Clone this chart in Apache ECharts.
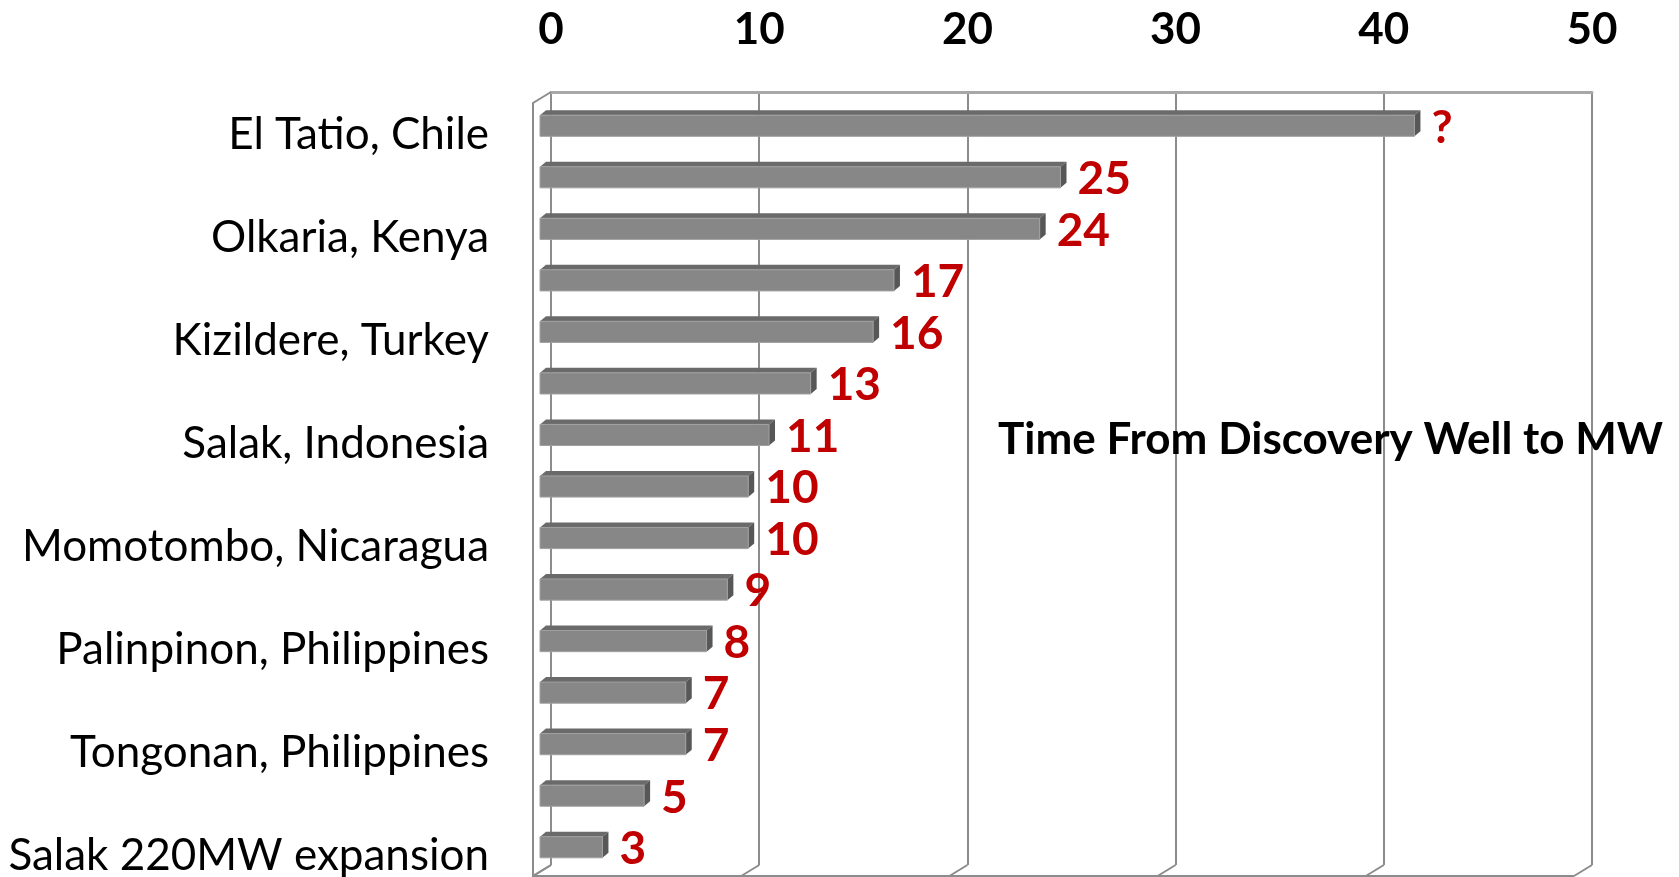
<!DOCTYPE html>
<html>
<head>
<meta charset="utf-8">
<script src="https://cdn.jsdelivr.net/npm/echarts@6/dist/echarts.min.js"></script>
<style>
  html, body { margin: 0; padding: 0; background: #fff; }
  #chart { width: 1679px; height: 877px; }
</style>
</head>
<body>
<div id="chart"></div>
<script>
// 発見井から発電開始までの年数（3D風の横棒グラフ）
const categories = [
  'El Tatio, Chile', '', 'Olkaria, Kenya', '', 'Kizildere, Turkey', '',
  'Salak, Indonesia', '', 'Momotombo, Nicaragua', '', 'Palinpinon, Philippines', '',
  'Tongonan, Philippines', '', 'Salak 220MW expansion'
];
const years = [42, 25, 24, 17, 16, 13, 11, 10, 10, 9, 8, 7, 7, 5, 3];
const barLabels = ['?', '25', '24', '17', '16', '13', '11', '10', '10', '9', '8', '7', '7', '5', '3'];
const xTicks = [0, 10, 20, 30, 40, 50];

const FONT = 'Lato, "Open Sans", sans-serif';
const wallDepth = [-18, 11]; // 奥の壁から手前までのずれ
const barShift = [-11, 8];   // 棒の前面のずれ
const bevel = [6, -5];       // 棒の上面・側面の厚み

(() => {
  const box = document.getElementById('chart');
  const chart = echarts.init(box, null, { renderer: 'canvas' });

  const renderBar = (params, api) => {
    const v = api.value(0);
    const c = api.value(1);
    const p0 = api.coord([0, c]);
    const p1 = api.coord([v, c]);
    const h = api.size([0, 1])[1] * 0.41;
    const x = p0[0] + barShift[0];
    const w = p1[0] - p0[0];
    const y = p0[1] + barShift[1] - h / 2;
    const [bx, by] = bevel;
    return {
      type: 'group',
      children: [
        {
          type: 'polygon',
          shape: { points: [[x, y], [x + bx, y + by], [x + w + bx, y + by], [x + w, y]] },
          style: { fill: '#6a6a6a' },
        },
        {
          type: 'polygon',
          shape: { points: [[x + w, y], [x + w + bx, y + by], [x + w + bx, y + h + by], [x + w, y + h]] },
          style: { fill: '#575757' },
        },
        {
          type: 'rect',
          shape: { x, y, width: w, height: h },
          style: { fill: '#878787', stroke: '#a0a0a0', lineWidth: 1 },
        },
        {
          type: 'text',
          x: x + w + bx + 11,
          y: y + h / 2 + 2,
          style: {
            text: barLabels[params.dataIndex],
            font: `bold 46px ${FONT}`,
            fill: '#c00000',
            verticalAlign: 'middle',
            align: 'left',
          },
        },
      ],
    };
  };

  // 左の壁と床の縁
  const renderFrame = (params, api) => {
    const cs = params.coordSys;
    const [dx, dy] = wallDepth;
    const top = cs.y, bottom = cs.y + cs.height, left = cs.x;
    const children = [
      {
        type: 'polyline',
        shape: { points: [[left, top], [left + dx, top + dy], [left + dx, bottom + dy], [left, bottom]] },
        style: { stroke: '#8c8c8c', lineWidth: 2, fill: null },
      },
    ];
    xTicks.forEach((t) => {
      const px = api.coord([t, 0])[0];
      children.push({
        type: 'line',
        shape: { x1: px, y1: bottom, x2: px + dx, y2: bottom + dy },
        style: { stroke: '#8c8c8c', lineWidth: 2 },
      });
    });
    children.push({
      type: 'line',
      shape: { x1: left + dx, y1: bottom + dy, x2: api.coord([50, 0])[0] + dx, y2: bottom + dy },
      style: { stroke: '#8c8c8c', lineWidth: 2 },
    });
    return { type: 'group', children };
  };

  chart.setOption({
    backgroundColor: '#ffffff',
    animation: false,
    title: {
      text: 'Time From Discovery Well to MW',
      left: 998,
      top: 418,
      padding: 0,
      textStyle: { fontFamily: FONT, fontSize: 44, fontWeight: 'bold', color: '#000' },
    },
    grid: { left: 551, right: 87, top: 92, bottom: 12, outerBoundsMode: 'none' },
    xAxis: {
      type: 'value',
      position: 'top',
      min: 0,
      max: 50,
      interval: 10,
      axisLine: { show: true, lineStyle: { color: '#a8a8a8', width: 3 } },
      axisTick: { show: false },
      axisLabel: { color: '#000', fontFamily: FONT, fontSize: 44, fontWeight: 'bold', margin: 40 },
      splitLine: { show: true, lineStyle: { color: '#8c8c8c', width: 2 } },
    },
    yAxis: {
      type: 'category',
      inverse: true,
      data: categories,
      axisLine: { show: false },
      axisTick: { show: false },
      axisLabel: {
        interval: 0,
        color: '#000',
        fontFamily: FONT,
        fontSize: 44,
        margin: 62,
        verticalAlign: 'top',
        lineHeight: 34,
      },
    },
    series: [
      {
        type: 'custom',
        name: 'frame',
        renderItem: renderFrame,
        data: [[0, 0]],
        silent: true,
        z: 1,
      },
      {
        type: 'custom',
        name: 'Years',
        renderItem: renderBar,
        encode: { x: 0, y: 1 },
        data: years.map((v, i) => [v, i]),
        clip: false,
        z: 2,
      },
    ],
  });

  window.addEventListener('resize', () => chart.resize());
})();
</script>
</body>
</html>
